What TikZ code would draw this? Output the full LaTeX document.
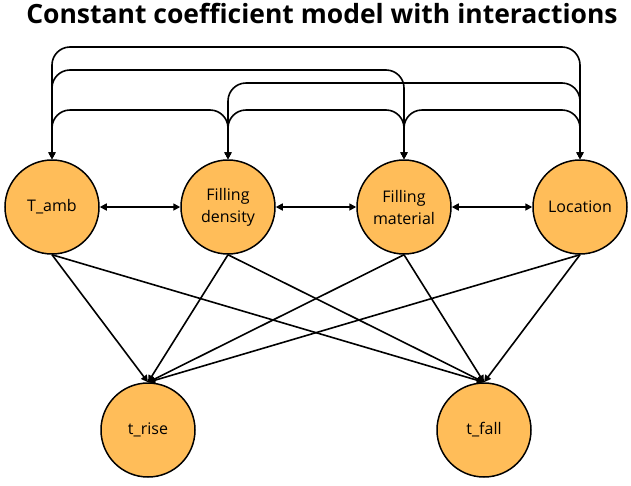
\documentclass[tikz,border=0pt]{standalone}
\usepackage{fontspec}
\setmainfont{Open Sans}
\usetikzlibrary{arrows.meta}
\definecolor{nodefill}{RGB}{255,189,89}
\tikzset{
  var/.style={circle, draw=black, line width=1.5pt, fill=nodefill, minimum size=94pt, inner sep=0pt, align=center, font=\fontsize{16}{22}\selectfont},
  link/.style={line width=1.6pt, draw=black},
  tip/.style={-{Triangle[length=7pt,width=7pt]}},
  bitip/.style={{Triangle[length=7pt,width=7pt]}-{Triangle[length=7pt,width=7pt]}},
}
\begin{document}
\begin{tikzpicture}[x=1pt,y=-1pt]
\useasboundingbox (0,0) rectangle (631,485);
\node[font=\fontsize{26.5}{30}\selectfont\bfseries, anchor=base, inner sep=0pt] (title) at (322,23) {Constant coefficient model with interactions};
\node[var] (tamb) at (52,207) {T\_amb};
\node[var] (fd) at (228,207) {Filling\\density};
\node[var] (fm) at (404,207) {Filling\\material};
\node[var] (loc) at (580,207) {Location};
\node[var] (trise) at (148,430) {t\_rise};
\node[var] (tfall) at (484,430) {t\_fall};
\coordinate (ya) at (0,47);
\coordinate (yb) at (0,70);
\coordinate (yc) at (0,83);
\coordinate (yd) at (0,110);
% top connectors
\draw[link,bitip,rounded corners=18pt] (tamb.north) -- (tamb.north |- ya) -- (loc.north |- ya) -- (loc.north);
\draw[link,bitip,rounded corners=18pt] (tamb.north) -- (tamb.north |- yb) -- (fm.north |- yb) -- (fm.north);
\draw[link,bitip,rounded corners=18pt] (fd.north) -- (fd.north |- yc) -- (loc.north |- yc) -- (loc.north);
\draw[link,bitip,rounded corners=18pt] (tamb.north) -- (tamb.north |- yd) -- (fd.north |- yd) -- (fd.north);
\draw[link,bitip,rounded corners=18pt] (fd.north) -- (fd.north |- yd) -- (fm.north |- yd) -- (fm.north);
\draw[link,bitip,rounded corners=18pt] (fm.north) -- (fm.north |- yd) -- (loc.north |- yd) -- (loc.north);
% horizontal
\draw[link,bitip] (tamb) -- (fd);
\draw[link,bitip] (fd) -- (fm);
\draw[link,bitip] (fm) -- (loc);
% bottom
\foreach \s in {tamb,fd,fm,loc}{
  \draw[link,tip] (\s.south) -- (trise.north);
  \draw[link,tip] (\s.south) -- (tfall.north);
}
\end{tikzpicture}
\end{document}
